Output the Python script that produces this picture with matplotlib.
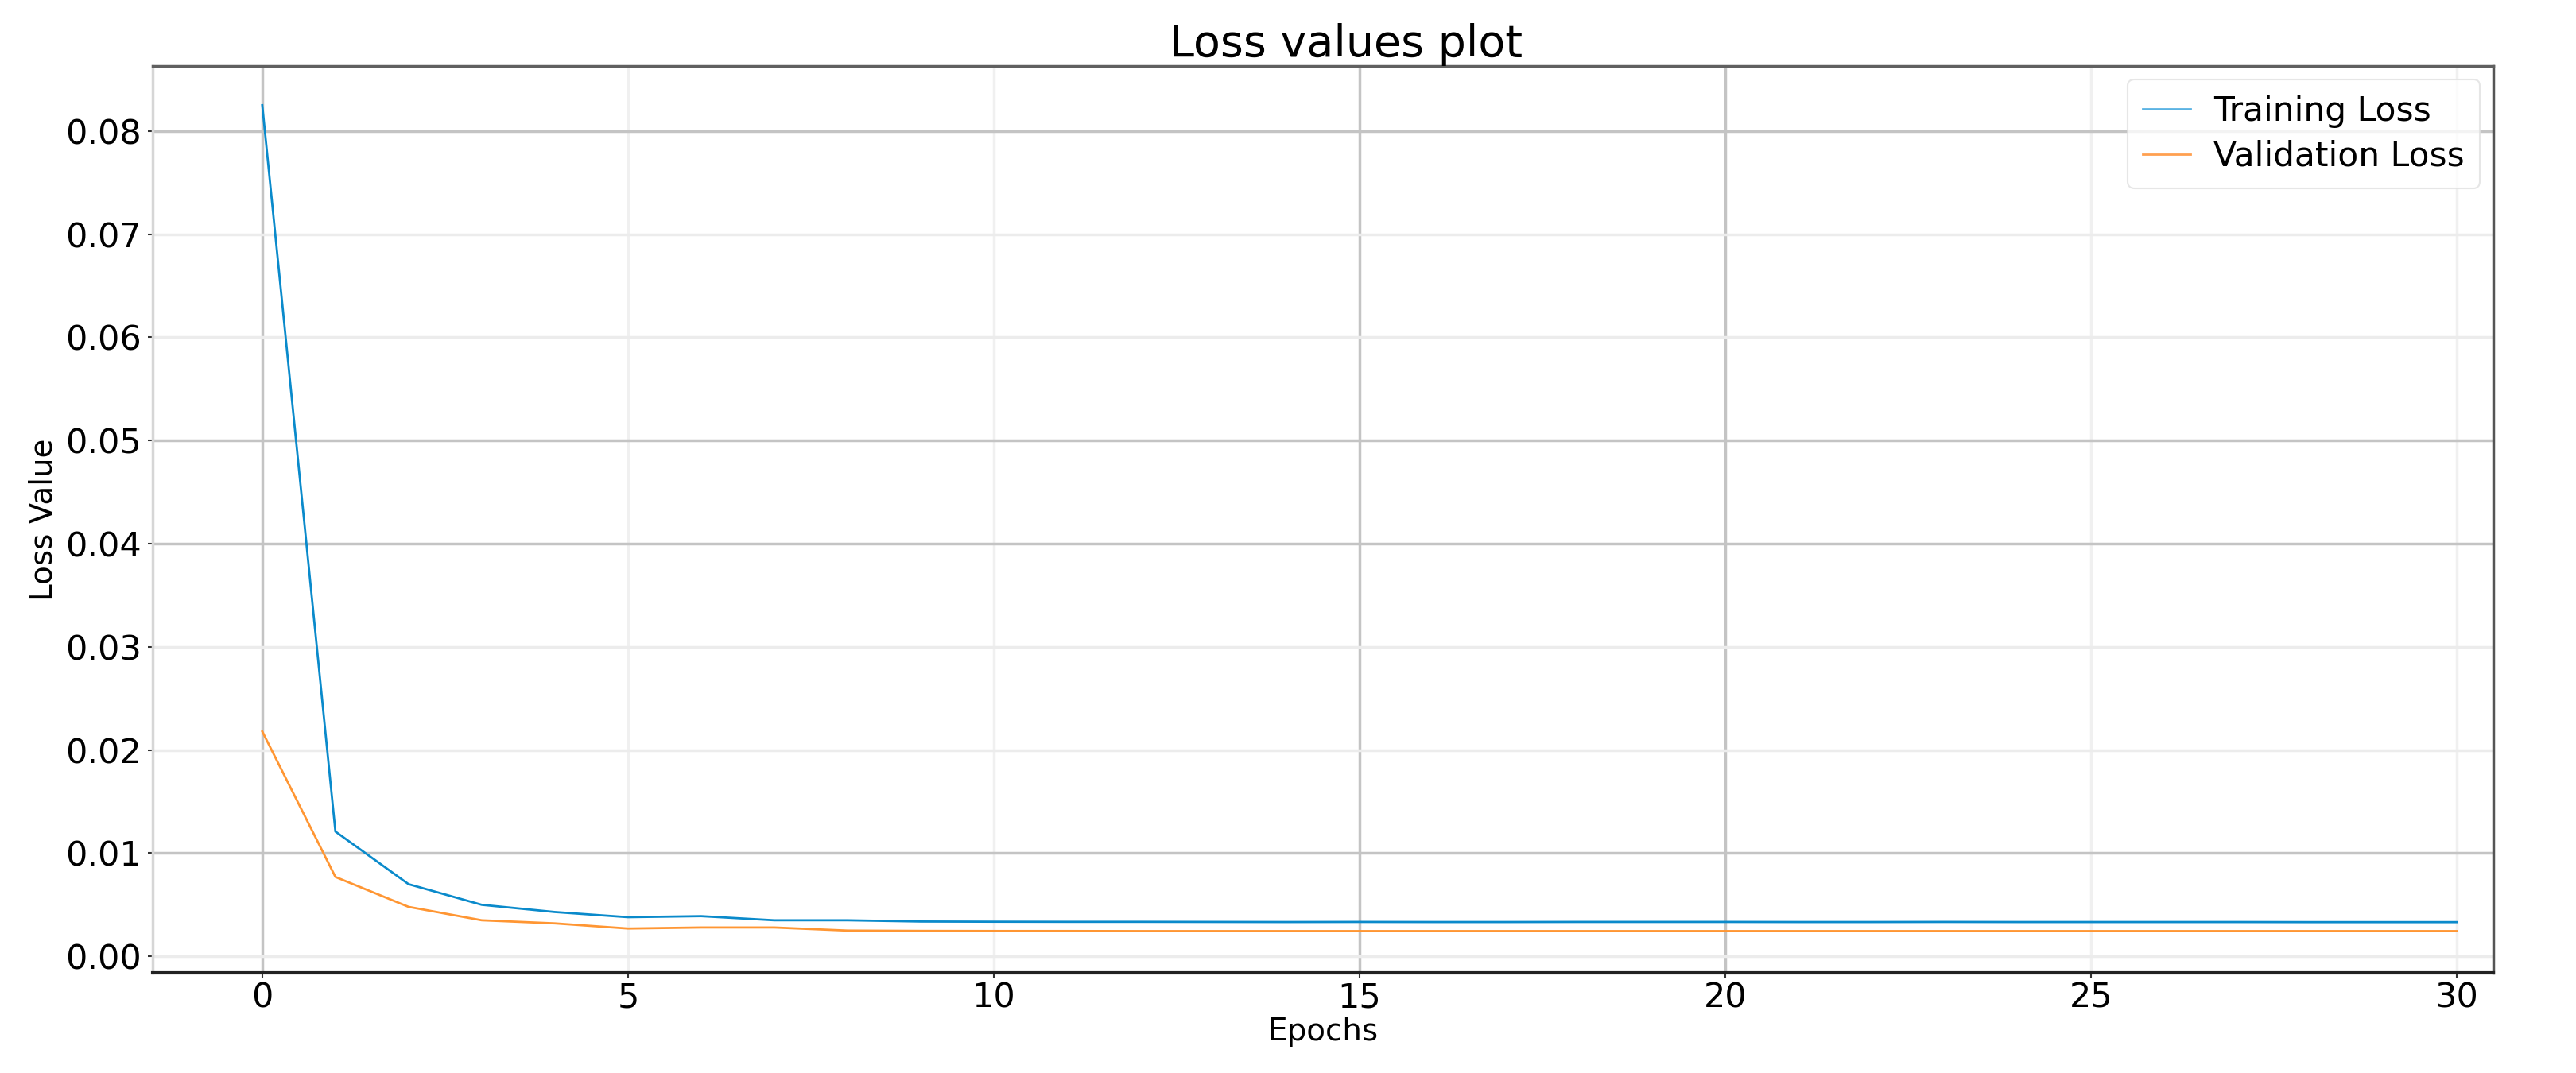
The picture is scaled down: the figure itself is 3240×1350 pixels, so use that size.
import matplotlib
matplotlib.use("Agg")
import matplotlib.pyplot as plt
import numpy as np

epochs = list(range(31))
train_loss = [0.0825, 0.0121, 0.0070, 0.0050, 0.0043, 0.0038, 0.0039, 0.0035, 0.0035,
              0.00338, 0.00336, 0.00335, 0.00335, 0.00334, 0.00333, 0.00334, 0.00333,
              0.00333, 0.00334, 0.00334, 0.00334, 0.00333, 0.00333, 0.00334, 0.00333,
              0.00333, 0.00333, 0.00333, 0.00332, 0.00332, 0.00332]
val_loss = [0.0218, 0.0077, 0.0048, 0.0035, 0.0032, 0.0027, 0.0028, 0.0028, 0.0025,
            0.00247, 0.00246, 0.00246, 0.00245, 0.00245, 0.00245, 0.00245, 0.00245,
            0.00245, 0.00245, 0.00245, 0.00245, 0.00245, 0.00245, 0.00245, 0.00245,
            0.00245, 0.00245, 0.00245, 0.00245, 0.00245, 0.00245]
x_ticks = [0, 5, 10, 15, 20, 25, 30]
y_ticks = [0.00, 0.01, 0.02, 0.03, 0.04, 0.05, 0.06, 0.07, 0.08]

plt.rcParams['font.family'] = ['DejaVu Sans']

fig = plt.figure(figsize=(32.41, 13.5), dpi=100)
ax = fig.add_axes([0.0592, 0.0933, 0.9084, 0.8452])

ax.plot(epochs, train_loss, color='#0a8acb', lw=2.0, label='Training Loss', zorder=3)
ax.plot(epochs, val_loss, color='#ff9633', lw=2.0, label='Validation Loss', zorder=3)

ax.set_xlim(-1.5, 30.5)
ax.set_ylim(-0.0016, 0.0863)
ax.set_xticks(x_ticks)
ax.set_yticks(y_ticks)
ax.set_yticklabels([f"{v:.2f}" for v in y_ticks])

ax.grid(True, lw=2.5)
dark_y = {0.01, 0.04, 0.05, 0.08}
for v, gl in zip(y_ticks, ax.yaxis.get_gridlines()):
    gl.set_color('#c4c4c4' if round(v, 2) in dark_y else '#ececec')
dark_x = {0, 15, 20}
for v, gl in zip(x_ticks, ax.xaxis.get_gridlines()):
    gl.set_color('#c4c4c4' if v in dark_x else '#f0f0f0')
ax.set_axisbelow(True)

ax.tick_params(axis='both', labelsize=31, length=4, width=1.5, colors='#333333', labelcolor='black')
ax.tick_params(axis='y', pad=6)

ax.spines['top'].set_color('#606060')
ax.spines['top'].set_linewidth(2.5)
ax.spines['bottom'].set_color('#222222')
ax.spines['bottom'].set_linewidth(3)
ax.spines['left'].set_color('#d6d6d6')
ax.spines['left'].set_linewidth(2.5)
ax.spines['right'].set_color('#555555')
ax.spines['right'].set_linewidth(2.5)

ax.set_title('Loss values plot', fontsize=40, pad=6, x=0.51)
ax.set_xlabel('Epochs', fontsize=28, labelpad=2)
ax.set_ylabel('Loss Value', fontsize=28, labelpad=6)

leg = ax.legend(loc='upper right', fontsize=30.5, frameon=True, fancybox=True,
                borderpad=0.45, handlelength=1.4, handletextpad=0.7, labelspacing=0.35,
                borderaxespad=0.4)
leg.get_frame().set_edgecolor('#e0e0e0')
leg.get_frame().set_linewidth(1.5)
leg.get_lines()[0].set_color('#5bb3e3')
leg.get_lines()[1].set_color('#ffa050')

fig.savefig('out.png', dpi=100, facecolor='white')
